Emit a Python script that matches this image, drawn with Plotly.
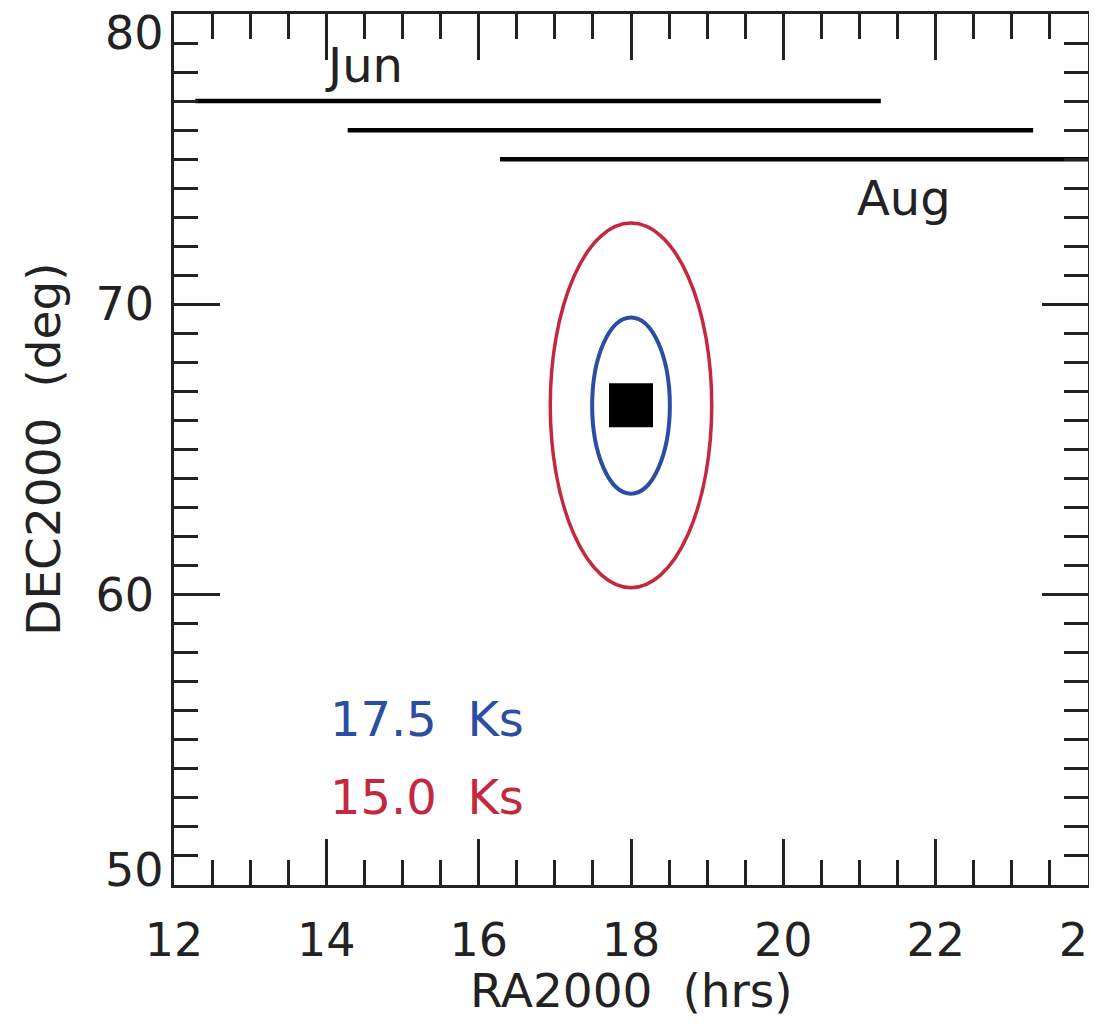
import plotly.graph_objects as go

# ---- data ----
month_labels = ["Jun", "Jul", "Aug"]
month_dec = [77.0, 76.0, 75.0]
month_ra_start = [12.28, 14.28, 16.28]
month_ra_end = [21.28, 23.28, 25.28]

exposure_labels = ["17.5 Ks", "15.0 Ks"]
contour_ra_min = [17.49, 16.94]
contour_ra_max = [18.51, 19.06]
contour_dec_min = [63.48, 60.24]
contour_dec_max = [69.55, 72.80]
contour_colors = ["#2B4DA3", "#C4283F"]
contour_widths = [4, 3.5]

target_ra = [18.0]
target_dec = [66.52]

x_ticks = [12, 14, 16, 18, 20, 22, 24]
y_ticks = [50, 60, 70, 80]

FONT = "DejaVu Sans"
TXT = "#222"

fig = go.Figure()

for lbl, d, r0, r1 in zip(month_labels, month_dec, month_ra_start, month_ra_end):
    fig.add_trace(go.Scatter(x=[r0, r1], y=[d, d], mode="lines",
                             line=dict(color="black", width=4.5),
                             name=lbl, showlegend=False, hoverinfo="skip"))

fig.add_trace(go.Scatter(x=target_ra, y=target_dec, mode="markers",
                         marker=dict(symbol="square", size=44, color="black",
                                     line=dict(width=0)),
                         showlegend=False))

shapes = []
for x0, x1, y0, y1, c, w in zip(contour_ra_min, contour_ra_max, contour_dec_min,
                                contour_dec_max, contour_colors, contour_widths):
    shapes.append(dict(type="circle", xref="x", yref="y", x0=x0, x1=x1, y0=y0, y1=y1,
                       line=dict(color=c, width=w), layer="above"))

# end labels of the y axis sit inside the figure edge, as in the reference
y_edge_labels = {80: 79.36, 50: 50.5}

annotations = [
    dict(x=14.5, y=78.25, xref="x", yref="y", text="Jun", showarrow=False,
         font=dict(family=FONT, size=48, color=TXT)),
    dict(x=21.58, y=73.65, xref="x", yref="y", text="Aug", showarrow=False,
         font=dict(family=FONT, size=48, color=TXT)),
    dict(x=14.02, y=55.73, xref="x", yref="y", text=exposure_labels[0].replace(" ", "&nbsp;&nbsp;"),
         showarrow=False, xanchor="left",
         font=dict(family=FONT, size=48, color=contour_colors[0])),
    dict(x=14.02, y=53.02, xref="x", yref="y", text=exposure_labels[1].replace(" ", "&nbsp;&nbsp;"),
         showarrow=False, xanchor="left",
         font=dict(family=FONT, size=48, color=contour_colors[1])),
    dict(x=0.5, y=-0.121, xref="paper", yref="paper", text="RA2000&nbsp;&nbsp;(hrs)",
         showarrow=False, yanchor="middle",
         font=dict(family=FONT, size=47, color=TXT)),
    dict(x=-0.143, y=0.5, xref="paper", yref="paper", text="DEC2000&nbsp;&nbsp;(deg)",
         showarrow=False, textangle=-90, xanchor="center",
         font=dict(family=FONT, size=47, color=TXT)),
]
for v, pos in y_edge_labels.items():
    annotations.append(dict(x=0, y=pos, xref="paper", yref="y", text=str(v),
                            showarrow=False, xanchor="right", xshift=-8,
                            font=dict(family=FONT, size=46, color=TXT)))

axis_common = dict(showline=True, linecolor=TXT, linewidth=2.5, mirror="ticks",
                   ticks="inside", tickcolor=TXT, tickwidth=2.5, ticklen=46,
                   showgrid=False, zeroline=False, automargin=False,
                   ticklabeloverflow="allow",
                   tickfont=dict(family=FONT, size=46, color=TXT))

# the page body adds an 8px margin, so the figure is sized to fit the window
fig.update_layout(
    width=1089, height=1016,
    margin=dict(l=166, r=9, t=6, b=139),
    paper_bgcolor="white", plot_bgcolor="white",
    showlegend=False,
    shapes=shapes,
    annotations=annotations,
    xaxis=dict(range=[12, 24], tickvals=x_ticks,
               ticktext=[str(v) for v in x_ticks],
               minor=dict(dtick=0.5, ticks="inside", ticklen=25, tickwidth=2.5,
                          tickcolor=TXT, showgrid=False),
               ticklabelstandoff=13, **axis_common),
    yaxis=dict(range=[50, 80], tickvals=y_ticks,
               ticktext=["" if v in y_edge_labels else str(v) for v in y_ticks],
               minor=dict(dtick=1, ticks="inside", ticklen=24, tickwidth=2.5,
                          tickcolor=TXT, showgrid=False),
               ticklabelstandoff=8, **axis_common),
)

fig.write_html("out.html")
